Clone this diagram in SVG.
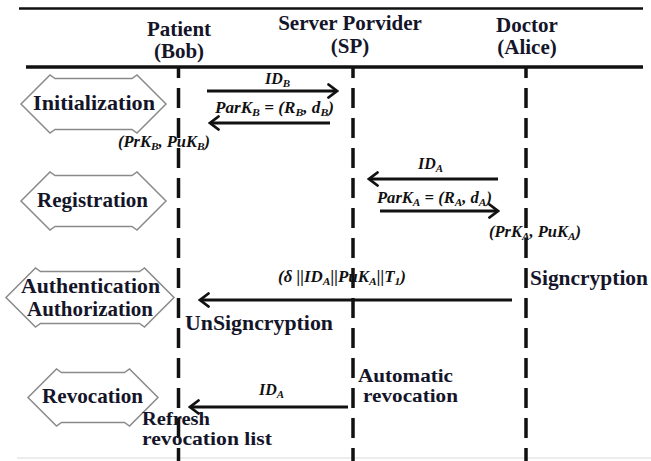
<svg xmlns="http://www.w3.org/2000/svg" width="651" height="461" viewBox="0 0 651 461">
<defs>
<style>
.hdr{font-family:"Liberation Serif","Times New Roman",serif;font-weight:bold;font-size:21px;fill:#15152a;text-anchor:middle}
.lbl{font-family:"Liberation Serif","Times New Roman",serif;font-weight:bold;font-size:21px;fill:#15152a}
.sm{font-size:19.5px}
.math{font-family:"Liberation Serif","Times New Roman",serif;font-weight:bold;font-style:italic;font-size:16px;fill:#111}
.sub{font-size:11px}
.phase{fill:#fff;stroke:#8a8a8a;stroke-width:1.5;stroke-linejoin:miter}
.life{stroke:#111;stroke-width:3.5;stroke-dasharray:20 10;stroke-dashoffset:10;fill:none}
.msg{stroke:#111;stroke-width:3;fill:none;marker-end:url(#ah)}
.rule{stroke:#111;fill:none}
</style>
<marker id="ah" viewBox="0 0 12 16" refX="10" refY="8" markerWidth="12" markerHeight="16" markerUnits="userSpaceOnUse" orient="auto">
<path d="M1.5,1.5 L10,8 L1.5,14.5" fill="none" stroke="#111" stroke-width="2.8" stroke-linecap="round" stroke-linejoin="miter"/>
</marker>
</defs>
<rect width="651" height="461" fill="#fff"/>
<g id="frame">
<line class="rule" x1="19" y1="8.5" x2="643" y2="8.5" stroke-width="2.5"/>
<line class="rule" x1="26" y1="67" x2="643" y2="67" stroke-width="3.5"/>
<line x1="17" y1="458" x2="651" y2="458" stroke="#e6e6e6" stroke-width="1.5"/>
</g>
<g id="patient">
<text class="hdr" x="179" y="36">Patient</text>
<text class="hdr" x="179" y="58">(Bob)</text>
<line class="life" x1="178.5" y1="68" x2="178.5" y2="461"/>
</g>
<g id="server">
<text class="hdr" x="350" y="30">Server Porvider</text>
<text class="hdr" x="350" y="53">(SP)</text>
<line class="life" x1="353" y1="68" x2="353" y2="461"/>
</g>
<g id="doctor">
<text class="hdr" x="527" y="32">Doctor</text>
<text class="hdr" x="527" y="54">(Alice)</text>
<line class="life" x1="526" y1="68" x2="526" y2="461"/>
</g>
<g id="initialization">
<polygon class="phase" points="21,104 50,75 55,78.5 132,78.5 137,75 166,104 137,133 132,129.5 55,129.5 50,133"/>
<text class="lbl" x="33" y="110" textLength="122" lengthAdjust="spacingAndGlyphs">Initialization</text>
</g>
<g id="registration">
<polygon class="phase" points="21,201 50,172 55,175.5 132,175.5 137,172 166,201 137,230 132,226.5 55,226.5 50,230"/>
<text class="lbl" x="37" y="207" textLength="111" lengthAdjust="spacingAndGlyphs">Registration</text>
</g>
<g id="authentication">
<polygon class="phase" points="6,297.5 35.5,268 40.5,271.5 139.5,271.5 144.5,268 174,297.5 144.5,327 139.5,323.5 40.5,323.5 35.5,327"/>
<text class="lbl" x="21" y="293" textLength="139" lengthAdjust="spacingAndGlyphs">Authentication</text>
<text class="lbl" x="27" y="316" textLength="126" lengthAdjust="spacingAndGlyphs">Authorization</text>
</g>
<g id="revocation">
<polygon class="phase" points="28,397.5 56.5,369 61.5,372.5 124.5,372.5 129.5,369 158,397.5 129.5,426 124.5,422.5 61.5,422.5 56.5,426"/>
<text class="lbl" x="42" y="403" textLength="101" lengthAdjust="spacingAndGlyphs">Revocation</text>
</g>
<g id="connectors">
<line class="msg" x1="207" y1="91" x2="337" y2="91"/>
<line class="msg" x1="330" y1="123" x2="210" y2="123"/>
<line class="msg" x1="498" y1="179" x2="369" y2="179"/>
<line class="msg" x1="380" y1="211" x2="498" y2="211"/>
<line class="msg" x1="512" y1="300" x2="200" y2="300"/>
<line class="msg" x1="348" y1="407" x2="190" y2="407"/>
</g>
<g id="message-labels">
<text class="math" x="265" y="84">ID<tspan class="sub" dy="3">B</tspan></text>
<text class="math" x="215" y="113" textLength="119" lengthAdjust="spacingAndGlyphs">ParK<tspan class="sub" dy="3">B</tspan><tspan dy="-3"> = (R</tspan><tspan class="sub" dy="3">B</tspan><tspan dy="-3">, d</tspan><tspan class="sub" dy="3">B</tspan><tspan dy="-3">)</tspan></text>
<text class="math" x="118" y="147" textLength="92" lengthAdjust="spacingAndGlyphs">(PrK<tspan class="sub" dy="3">B</tspan><tspan dy="-3">, PuK</tspan><tspan class="sub" dy="3">B</tspan><tspan dy="-3">)</tspan></text>
<text class="math" x="418" y="169">ID<tspan class="sub" dy="3">A</tspan></text>
<text class="math" x="377" y="203" textLength="115" lengthAdjust="spacingAndGlyphs">ParK<tspan class="sub" dy="3">A</tspan><tspan dy="-3"> = (R</tspan><tspan class="sub" dy="3">A</tspan><tspan dy="-3">, d</tspan><tspan class="sub" dy="3">A</tspan><tspan dy="-3">)</tspan></text>
<text class="math" x="489" y="237" textLength="92" lengthAdjust="spacingAndGlyphs">(PrK<tspan class="sub" dy="3">A</tspan><tspan dy="-3">, PuK</tspan><tspan class="sub" dy="3">A</tspan><tspan dy="-3">)</tspan></text>
<text class="math" x="278" y="282" textLength="128" lengthAdjust="spacingAndGlyphs">(δ ||ID<tspan class="sub" dy="3">A</tspan><tspan dy="-3">||PuK</tspan><tspan class="sub" dy="3">A</tspan><tspan dy="-3">||T</tspan><tspan class="sub" dy="3">1</tspan><tspan dy="-3">)</tspan></text>
<text class="math" x="259" y="395">ID<tspan class="sub" dy="3">A</tspan></text>
</g>
<g id="annotations">
<text class="lbl" x="530" y="285" textLength="118" lengthAdjust="spacingAndGlyphs">Signcryption</text>
<text class="lbl" x="185" y="330" textLength="148" lengthAdjust="spacingAndGlyphs">UnSigncryption</text>
<text class="lbl sm" x="358" y="382" textLength="95" lengthAdjust="spacingAndGlyphs">Automatic</text>
<text class="lbl sm" x="363" y="402" textLength="95" lengthAdjust="spacingAndGlyphs">revocation</text>
<text class="lbl sm" x="142" y="425" textLength="68" lengthAdjust="spacingAndGlyphs">Refresh</text>
<text class="lbl sm" x="142" y="445" textLength="130" lengthAdjust="spacingAndGlyphs">revocation list</text>
</g>
</svg>
